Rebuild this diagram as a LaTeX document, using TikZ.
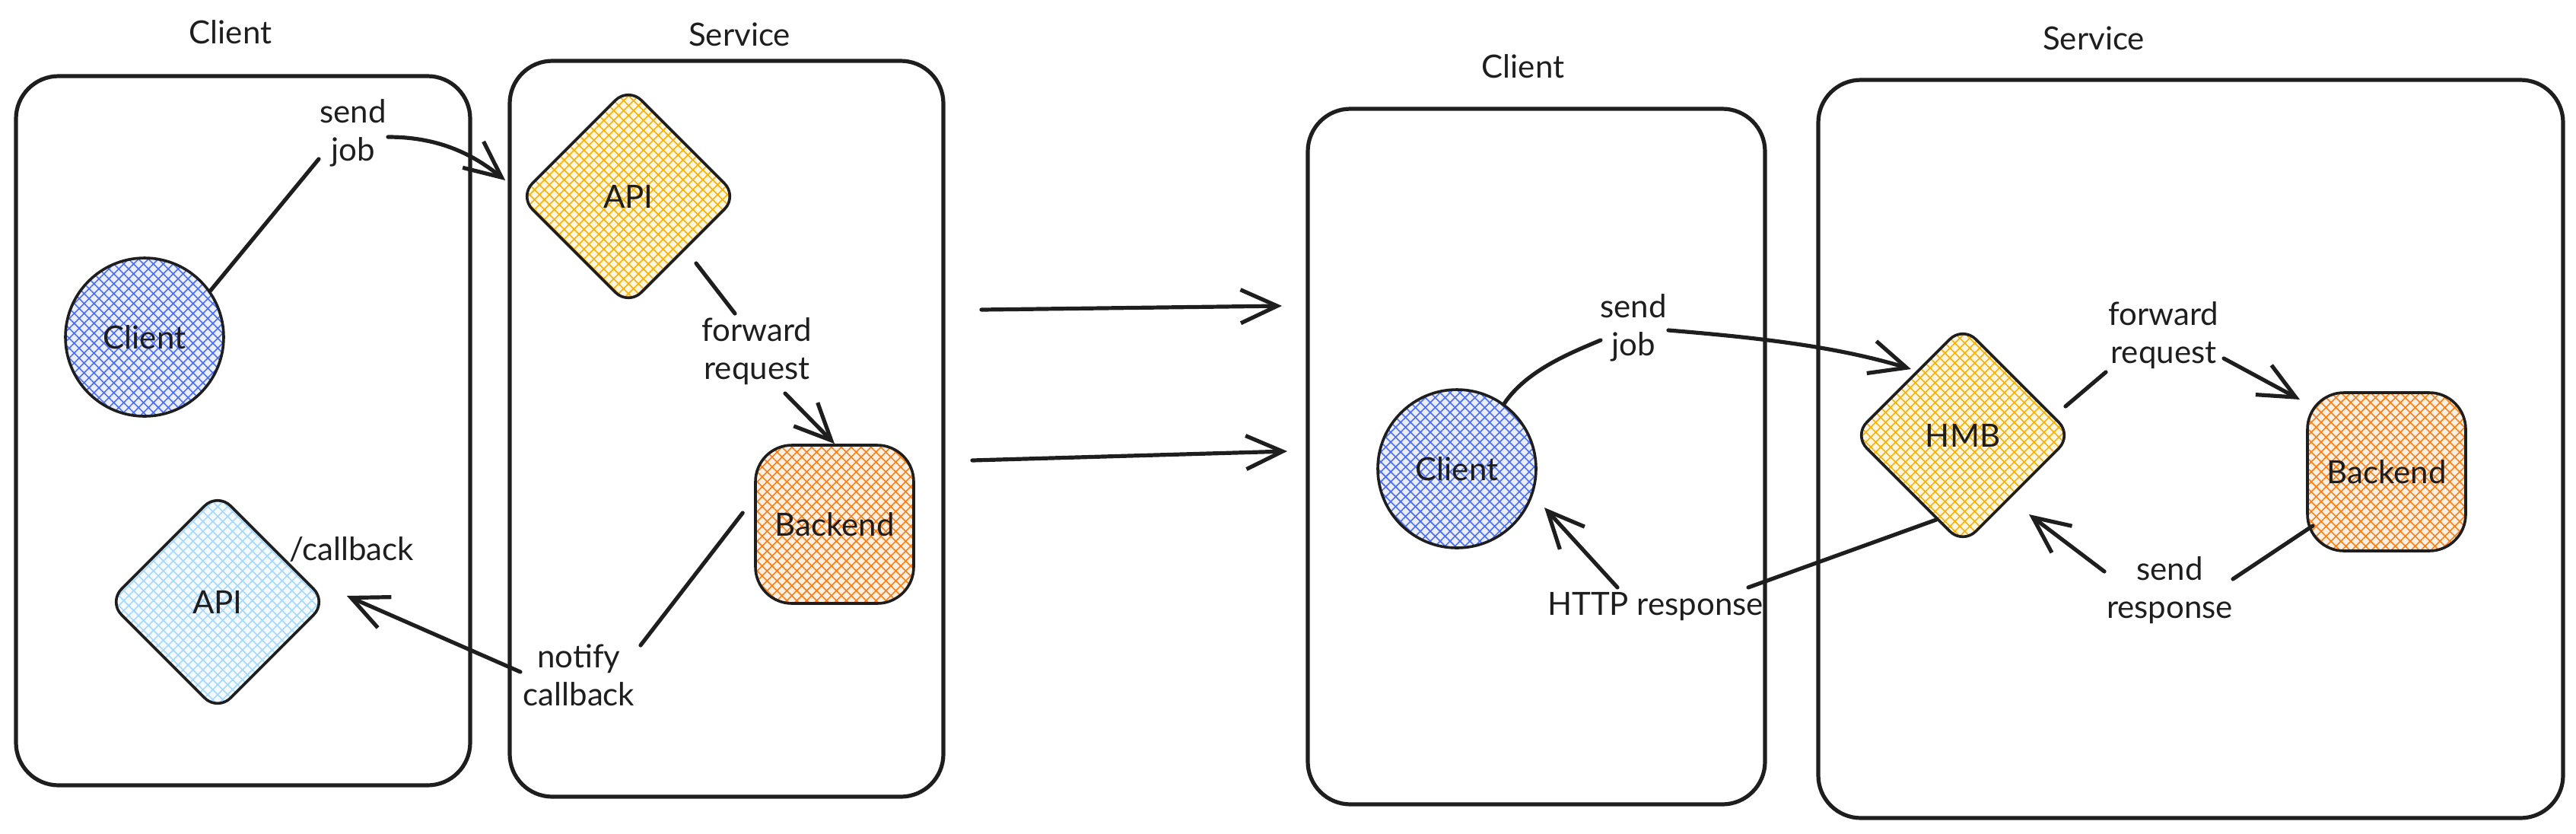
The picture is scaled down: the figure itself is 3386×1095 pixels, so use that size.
\documentclass[tikz,border=0pt]{standalone}
\usepackage{fontspec}
\setmainfont{Lato}
\usetikzlibrary{shapes.geometric,arrows.meta,patterns.meta,calc}
\definecolor{ink}{HTML}{1E1E1E}
\definecolor{cblue}{HTML}{4C6EF5}
\definecolor{cyel}{HTML}{FAB005}
\definecolor{corg}{HTML}{FD7E14}
\definecolor{clblue}{HTML}{A5D8FF}
\begin{document}
\begin{tikzpicture}[x=0.25pt,y=-0.25pt,
  lbl/.style={font=\fontsize{10.5}{12.5}\selectfont, align=center, inner sep=0pt, text=ink},
  box/.style={draw=ink, line width=1.3pt, rounded corners=14pt},
  hatch/.style={preaction={fill=#1!12},
     preaction={pattern={Lines[angle=45,distance=2.3pt,line width=0.4pt]},pattern color=#1},
     pattern={Lines[angle=-45,distance=2.3pt,line width=0.4pt]}, pattern color=#1},
  shp/.style={draw=ink, line width=0.9pt, font=\fontsize{10.5}{12.5}\selectfont, text=ink, inner sep=0pt},
  dia/.style={shp, shape=diamond, aspect=1, minimum width=72pt, minimum height=72pt, rounded corners=6pt},
  circ/.style={shp, shape=circle, minimum size=52pt},
  sq/.style={shp, shape=rectangle, minimum width=52pt, minimum height=52pt, rounded corners=12pt},
  conn/.style={draw=ink, line width=1.3pt, line cap=round},
  arr/.style={conn, -{Straight Barb[length=12pt,width=11pt]}}
]
\useasboundingbox (0,0) rectangle (3386,1095);

% ---------- left diagram ----------
\draw[box] (21,100) rectangle (618,1032);
\draw[box] (670,80) rectangle (1240,1047);
\node[lbl] (t1) at (303,42) {Client};
\node[lbl] (t2) at (972,45) {Service};

\node[circ, hatch=cblue] (c1) at (190,443) {Client};
\node[dia, hatch=cyel] (api1) at (826,258) {API};
\node[sq, hatch=corg] (be1) at (1097,689) {Backend};
\node[dia, hatch=clblue] (api2) at (286,791) {API};
\node[lbl] (cb) at (462,722) {/callback};

\node[lbl] (l1) at (464,175) {send\\job};
\node[lbl] (l2) at (995,462) {forward\\request};
\node[lbl] (l3) at (761,887) {notify\\callback};

\draw[conn] (c1.35) -- ($(l1)+(-45,34)$);
\draw[arr] ($(l1)+(46,5)$) .. controls +(70,0) and +(-40,-32) .. ($(api1.west)+(-16,-21)$);
\draw[conn] ($(api1)+(89,88)$) -- ($(l2)+(-29,-50)$);
\draw[arr] ($(l2)+(37,55)$) -- (be1.north);
\draw[conn] ($(be1.west)+(-15,-15)$) -- ($(l3)+(81,-39)$);
\draw[arr] ($(l3)+(-77,-4)$) -- ($(api2.east)+(24,-8)$);

% ---------- middle arrows ----------
\coordinate (m1s) at (1290,407);
\coordinate (m1e) at (1685,402);
\coordinate (m2s) at (1278,605);
\coordinate (m2e) at (1692,593);
\draw[arr] (m1s) -- (m1e);
\draw[arr] (m2s) -- (m2e);

% ---------- right diagram ----------
\draw[box] (1719,143) rectangle (2320,1057);
\draw[box] (2390,105) rectangle (3369,1075);
\node[lbl] (t3) at (2002,87) {Client};
\node[lbl] (t4) at (2752,50) {Service};

\node[circ, hatch=cblue] (c2) at (1915,616) {Client};
\node[dia, hatch=cyel] (hmb) at (2580,572) {HMB};
\node[sq, hatch=corg] (be2) at (3137,620) {Backend};

\node[lbl] (l4) at (2147,431) {send\\job};
\node[lbl] (l5) at (2844,441) {forward\\request};
\node[lbl] (l6) at (2852,776) {send\\response};
\node[lbl] (l7) at (2176,797) {HTTP response};

\draw[conn] (c2.54) .. controls +(30,-45) and +(-35,15) .. ($(l4)+(-43,16)$);
\draw[arr] ($(l4)+(46,3)$) .. controls +(120,10) and +(-100,-30) .. ($(hmb)+(-68,-87)$);
\draw[conn] ($(hmb)+(135,-38)$) -- ($(l5)+(-76,48)$);
\draw[arr] ($(l5)+(79,30)$) -- ($(be2)+(-114,-95)$);
\draw[conn] ($(be2)+(-97,71)$) -- ($(l6)+(83,-15)$);
\draw[arr] ($(l6)+(-86,-25)$) -- ($(hmb)+(87,104)$);
\draw[conn] ($(hmb)+(-35,111)$) -- ($(l7)+(122,-25)$);
\draw[arr] ($(l7)+(-50,-25)$) -- ($(c2)+(115,51)$);
\end{tikzpicture}
\end{document}
